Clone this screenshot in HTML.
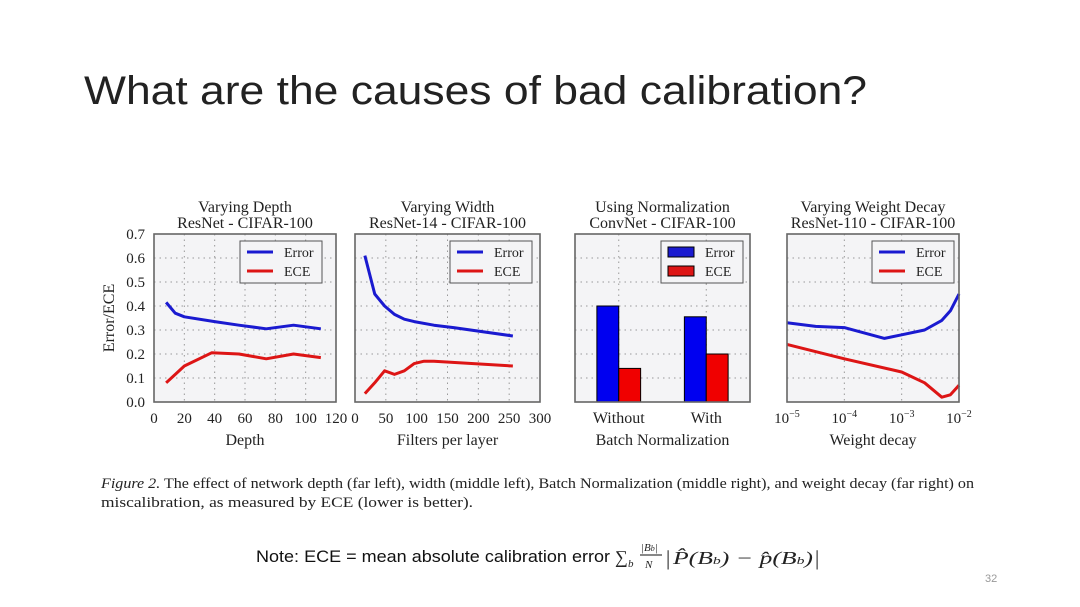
<!DOCTYPE html>
<html><head><meta charset="utf-8"><style>
html,body{margin:0;padding:0;background:#fff;}
svg{display:block;}
.ser{font-family:"Liberation Serif",serif;fill:#222;}
.sans{font-family:"Liberation Sans",sans-serif;}
</style></head><body>
<svg id="s" width="1080" height="607" viewBox="0 0 1080 607">
<text class="sans" x="84" y="104" font-size="40" fill="#222" textLength="783" lengthAdjust="spacingAndGlyphs">What are the causes of bad calibration?</text>
<text class="ser" x="101" y="488" font-size="14.5" textLength="873" lengthAdjust="spacingAndGlyphs"><tspan font-style="italic">Figure 2.</tspan> The effect of network depth (far left), width (middle left), Batch Normalization (middle right), and weight decay (far right) on</text>
<text class="ser" x="101" y="507" font-size="14.5" textLength="372" lengthAdjust="spacingAndGlyphs">miscalibration, as measured by ECE (lower is better).</text>
<text class="sans" x="256" y="562" font-size="17" fill="#111" textLength="354" lengthAdjust="spacingAndGlyphs">Note: ECE = mean absolute calibration error</text>
<g class="ser" font-style="italic" fill="#111">
<text x="615" y="563" font-size="18" font-style="normal">∑</text><text x="628" y="567" font-size="11">b</text>
<text x="641" y="551" font-size="11">|B<tspan font-size="8">b</tspan>|</text>
<line x1="640" y1="555" x2="662" y2="555" stroke="#111" stroke-width="1"/>
<text x="645" y="568" font-size="11">N</text>
<text x="666" y="565" font-size="21" font-style="normal">|</text>
<text x="673" y="564" font-size="18" textLength="140" lengthAdjust="spacingAndGlyphs">P̂(B<tspan font-size="11">b</tspan>) − p̂(B<tspan font-size="11">b</tspan>)</text>
<text x="815" y="565" font-size="21" font-style="normal">|</text>
</g>
<text class="sans" x="985" y="582" font-size="11" fill="#999">32</text>
<g id="charts"></g>
</svg>
<script>
// Panel 1 data
const depthX=[8,14,20,40,56,74,92,110];
const depthErr=[0.415,0.37,0.355,0.335,0.32,0.305,0.32,0.305];
const depthEceX=[8,20,38,56,74,92,110];
const depthEce=[0.08,0.15,0.205,0.2,0.18,0.2,0.185];
// Panel 2 data
const widthX=[16,32,48,64,80,96,128,160,256];
const widthErr=[0.61,0.45,0.40,0.365,0.345,0.335,0.32,0.31,0.275];
const widthEceX=[16,32,48,64,80,96,112,128,256];
const widthEce=[0.035,0.08,0.13,0.115,0.13,0.16,0.17,0.17,0.15];
// Panel 3 data
const bnCats=["Without","With"];
const bnErr=[0.40,0.355];
const bnEce=[0.14,0.20];
// Panel 4 data (log10 weight decay)
const wdX=[-5,-4.5,-4,-3.3,-3,-2.6,-2.3,-2.15,-2];
const wdErr=[0.33,0.315,0.31,0.265,0.28,0.30,0.34,0.38,0.45];
const wdEceX=[-5,-4,-3,-2.6,-2.3,-2.15,-2];
const wdEce=[0.24,0.18,0.125,0.08,0.02,0.03,0.07];
const yTicks=[0,0.1,0.2,0.3,0.4,0.5,0.6,0.7];
const ticks1=[0,20,40,60,80,100,120];
const ticks2=[0,50,100,150,200,250,300];
const ticks4=[-5,-4,-3,-2];

const NS="http://www.w3.org/2000/svg";
const root=document.getElementById('charts');
function el(tag,attrs,parent){const e=document.createElementNS(NS,tag);for(const k in attrs)e.setAttribute(k,attrs[k]);(parent||root).appendChild(e);return e;}
const TOP=234,BOT=402;
function yS(v){return BOT-(v/0.7)*(BOT-TOP);}
function panel(name,x0,x1,xmin,xmax,title1,title2,xlabel){
  const g=el('g',{});
  
  
  const xS=v=>x0+(v-xmin)/(xmax-xmin)*(x1-x0);
  el('rect',{x:x0,y:TOP,width:x1-x0,height:BOT-TOP,fill:'#f4f4f6'},g);
  const t1=el('text',{x:(x0+x1)/2,y:212,'text-anchor':'middle','font-size':16,class:'ser'},g);t1.textContent=title1;
  
  
  const t2=el('text',{x:(x0+x1)/2,y:228,'text-anchor':'middle','font-size':16,class:'ser'},g);t2.textContent=title2;
  
  
  const xl=el('text',{x:(x0+x1)/2,y:445,'text-anchor':'middle','font-size':16,class:'ser'},g);xl.textContent=xlabel;
  
  
  yTicks.forEach(v=>{if(v>0&&v<0.7)el('line',{x1:x0,x2:x1,y1:yS(v),y2:yS(v),stroke:'#999','stroke-dasharray':'1.5,4','stroke-width':1},g);});
  return {g,xS};
}
function border(g,x0,x1){el('rect',{x:x0,y:TOP,width:x1-x0,height:BOT-TOP,fill:'none',stroke:'#666','stroke-width':1.6},g);}
function vgrid(g,xs,xS){xs.forEach(v=>{const x=xS(v);el('line',{x1:x,x2:x,y1:TOP,y2:BOT,stroke:'#999','stroke-dasharray':'1.5,4'},g);});}
function xticks(g,ticks,xS,fmt){ticks.forEach(v=>{const t=el('text',{x:xS(v),y:423,'text-anchor':'middle','font-size':15,class:'ser',fill:'#444'},g);
  if(fmt){t.textContent='10';const s=el('tspan',{dy:-6,'font-size':10},t);s.textContent='−'+(-v);}else t.textContent=v;
  
  });}
function line(g,xs,ys,xS,color,nm){const p=el('polyline',{points:xs.map((x,i)=>xS(x)+','+yS(ys[i])).join(' '),fill:'none',stroke:color,'stroke-width':3,'stroke-linejoin':'round'},g);
  
  }
function legend(g,lx,bars){
  const lg=el('g',{},g);
  
  
  el('rect',{x:lx,y:241,width:82,height:42,fill:'#f4f4f6',stroke:'#555','stroke-width':1},lg);
  [['Error','#1a1ad0'],['ECE','#dd1515']].forEach((d,i)=>{const y=252+i*19;
    if(bars)el('rect',{x:lx+7,y:y-5,width:26,height:10,fill:d[1],stroke:'#000'},lg);
    else el('line',{x1:lx+7,x2:lx+33,y1:y,y2:y,stroke:d[1],'stroke-width':3},lg);
    const t=el('text',{x:lx+44,y:y+5,'font-size':14,class:'ser',fill:'#333'},lg);t.textContent=d[0];
    
    });
}
yTicks.forEach(v=>{const t=el('text',{x:145,y:yS(v)+5,'text-anchor':'end','font-size':15,class:'ser',fill:'#444'});t.textContent=v.toFixed(1);
  
  });
const yt=el('text',{x:0,y:0,transform:'translate(114,318) rotate(-90)','text-anchor':'middle','font-size':16,class:'ser'});yt.textContent='Error/ECE';



let p=panel('depth-panel',154,336,0,120,'Varying Depth','ResNet - CIFAR-100','Depth');
vgrid(p.g,[20,40,60,80,100],p.xS);xticks(p.g,ticks1,p.xS);
line(p.g,depthX,depthErr,p.xS,'#1a1ad0','depth-error-line');line(p.g,depthEceX,depthEce,p.xS,'#dd1515','depth-ece-line');
legend(p.g,240);border(p.g,154,336);
p=panel('width-panel',355,540,0,300,'Varying Width','ResNet-14 - CIFAR-100','Filters per layer');
vgrid(p.g,[50,100,150,200,250],p.xS);xticks(p.g,ticks2,p.xS);
line(p.g,widthX,widthErr,p.xS,'#1a1ad0','width-error-line');line(p.g,widthEceX,widthEce,p.xS,'#dd1515','width-ece-line');
legend(p.g,450);border(p.g,355,540);
p=panel('batchnorm-panel',575,750,-0.5,1.5,'Using Normalization','ConvNet - CIFAR-100','Batch Normalization');
vgrid(p.g,[0,1],p.xS);
bnCats.forEach((c,i)=>{const w=p.xS(0.25)-p.xS(0);
  const b1=el('rect',{x:p.xS(i-0.25),y:yS(bnErr[i]),width:w,height:BOT-yS(bnErr[i]),fill:'#0000f0',stroke:'#000','stroke-width':1},p.g);
  
  
  const b2=el('rect',{x:p.xS(i),y:yS(bnEce[i]),width:w,height:BOT-yS(bnEce[i]),fill:'#f00000',stroke:'#000','stroke-width':1},p.g);
  
  
  const t=el('text',{x:p.xS(i),y:423,'text-anchor':'middle','font-size':16,class:'ser',fill:'#444'},p.g);t.textContent=c;
  
  });
legend(p.g,661,true);border(p.g,575,750);
p=panel('weight-decay-panel',787,959,-5,-2,'Varying Weight Decay','ResNet-110 - CIFAR-100','Weight decay');
vgrid(p.g,[-4,-3],p.xS);xticks(p.g,ticks4,p.xS,true);
line(p.g,wdX,wdErr,p.xS,'#1a1ad0','wd-error-line');line(p.g,wdEceX,wdEce,p.xS,'#dd1515','wd-ece-line');
legend(p.g,872);border(p.g,787,959);
</script>
</body></html>
